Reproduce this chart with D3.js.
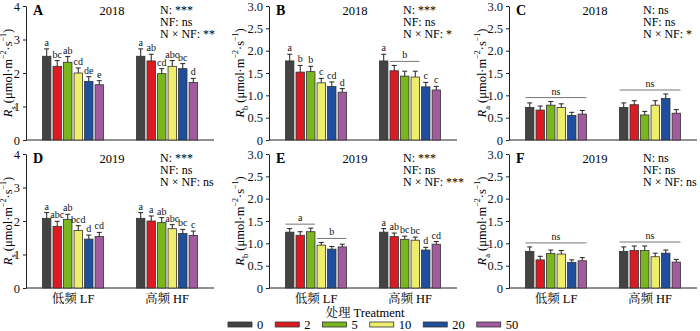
<!DOCTYPE html>
<html>
<head>
<meta charset="utf-8">
<title>Soil respiration components</title>
<style>
  body { margin: 0; background: #fff; }
  svg { display: block; }
  svg text { font-family: "Liberation Serif", "Times New Roman", "Noto Serif CJK SC", "Noto Sans CJK SC", serif; }
</style>
</head>
<body>
<script src="https://d3js.org/d3.v7.min.js"></script>
<script>
var groups = ["低频 LF", "高频 HF"];
var levels = ["0", "2", "5", "10", "20", "50"];
var colors = ["#434343", "#dc1a22", "#7cb61e", "#eeee6c", "#1e4e9c", "#a35b9f"];

var ticksRs = [0, 1, 2, 3, 4];
var ticksRbRa = [0, 0.5, 1.0, 1.5, 2.0, 2.5, 3.0];

// 2018, total soil respiration
var rs2018 = [[2.50, 2.20, 2.32, 2.00, 1.75, 1.65], [2.50, 2.36, 1.98, 2.20, 2.13, 1.72]];
var rs2018Se = [[0.22, 0.17, 0.17, 0.15, 0.14, 0.12], [0.22, 0.20, 0.15, 0.17, 0.15, 0.12]];
var rs2018Letters = [["a", "bc", "ab", "cd", "de", "e"], ["a", "ab", "cd", "abc", "bc", "d"]];

// 2018, heterotrophic respiration
var rb2018 = [[1.77, 1.52, 1.53, 1.28, 1.20, 1.07], [1.77, 1.55, 1.43, 1.41, 1.19, 1.12]];
var rb2018Se = [[0.15, 0.15, 0.12, 0.10, 0.10, 0.08], [0.15, 0.12, 0.11, 0.13, 0.10, 0.08]];
var rb2018Letters = [["a", "b", "b", "c", "cd", "d"], ["a", "", "", "", "c", "c"]];
var rb2018Spans = [{ group: 1, from: 1, to: 3, label: "b" }];

// 2018, autotrophic respiration
var ra2018 = [[0.73, 0.67, 0.78, 0.73, 0.55, 0.58], [0.73, 0.79, 0.56, 0.78, 0.93, 0.60]];
var ra2018Se = [[0.10, 0.09, 0.08, 0.08, 0.07, 0.08], [0.10, 0.09, 0.08, 0.10, 0.10, 0.08]];
var ra2018Letters = [["", "", "", "", "", ""], ["", "", "", "", "", ""]];
var ra2018Spans = [{ group: 0, from: 0, to: 5, label: "ns" }, { group: 1, from: 0, to: 5, label: "ns" }];

// 2019, total soil respiration
var rs2019 = [[2.08, 1.84, 2.05, 1.72, 1.46, 1.54], [2.08, 2.00, 1.95, 1.77, 1.63, 1.57]];
var rs2019Se = [[0.17, 0.15, 0.15, 0.14, 0.12, 0.12], [0.17, 0.15, 0.15, 0.12, 0.12, 0.13]];
var rs2019Letters = [["a", "abc", "ab", "bcd", "d", "cd"], ["a", "a", "ab", "abc", "bc", "c"]];

// 2019, heterotrophic respiration
var rb2019 = [[1.25, 1.18, 1.26, 0.96, 0.87, 0.92], [1.25, 1.15, 1.09, 1.07, 0.85, 0.98]];
var rb2019Se = [[0.08, 0.08, 0.08, 0.06, 0.06, 0.06], [0.08, 0.08, 0.07, 0.07, 0.06, 0.06]];
var rb2019Letters = [["", "", "", "", "", ""], ["a", "ab", "bc", "bc", "d", "cd"]];
var rb2019Spans = [{ group: 0, from: 0, to: 2, label: "a" }, { group: 0, from: 3, to: 5, label: "b" }];

// 2019, autotrophic respiration
var ra2019 = [[0.82, 0.63, 0.77, 0.76, 0.57, 0.61], [0.82, 0.84, 0.84, 0.70, 0.78, 0.58]];
var ra2019Se = [[0.10, 0.08, 0.08, 0.08, 0.06, 0.07], [0.10, 0.10, 0.10, 0.08, 0.07, 0.06]];
var ra2019Letters = [["", "", "", "", "", ""], ["", "", "", "", "", ""]];
var ra2019Spans = [{ group: 0, from: 0, to: 5, label: "ns" }, { group: 1, from: 0, to: 5, label: "ns" }];

var panels = [
  { id: "A", year: "2018", sub: "s", mean: rs2018, se: rs2018Se, letters: rs2018Letters, spans: [],
    ticks: ticksRs, stats: ["N: ***", "NF: ns", "N × NF: **"], left: 26, top: 6, labelX: 8 },
  { id: "B", year: "2018", sub: "b", mean: rb2018, se: rb2018Se, letters: rb2018Letters, spans: rb2018Spans,
    ticks: ticksRbRa, stats: ["N: ***", "NF: ns", "N × NF: *"], left: 269, top: 6, labelX: 240 },
  { id: "C", year: "2018", sub: "a", mean: ra2018, se: ra2018Se, letters: ra2018Letters, spans: ra2018Spans,
    ticks: ticksRbRa, stats: ["N: ns", "NF: ns", "N × NF: *"], left: 509, top: 6, labelX: 482 },
  { id: "D", year: "2019", sub: "s", mean: rs2019, se: rs2019Se, letters: rs2019Letters, spans: [],
    ticks: ticksRs, stats: ["N: ***", "NF: ns", "N × NF: ns"], left: 26, top: 154, labelX: 8 },
  { id: "E", year: "2019", sub: "b", mean: rb2019, se: rb2019Se, letters: rb2019Letters, spans: rb2019Spans,
    ticks: ticksRbRa, stats: ["N: ***", "NF: ns", "N × NF: ***"], left: 269, top: 154, labelX: 240 },
  { id: "F", year: "2019", sub: "a", mean: ra2019, se: ra2019Se, letters: ra2019Letters, spans: ra2019Spans,
    ticks: ticksRbRa, stats: ["N: ns", "NF: ns", "N × NF: ns"], left: 509, top: 154, labelX: 482 }
];

var W = 700, H = 331;
var pw = 188, ph = 134;
var groupSpan = 61;
var ink = "#222";

var svg = d3.select("body").append("svg")
    .attr("width", W)
    .attr("height", H);

var x0 = d3.scaleBand().domain(groups).range([0, pw]);
var x1 = d3.scaleBand().domain(levels).range([0, groupSpan]).paddingInner(0.2);

function barX(gi, li) {
  return x0(groups[gi]) + x0.bandwidth() / 2 - groupSpan / 2 + x1(levels[li]);
}

panels.forEach(function(p, pi) {
  var ymax = d3.max(p.ticks);
  var y = d3.scaleLinear().domain([0, ymax]).range([ph, 0]);
  var fmt = ymax > 3 ? d3.format("d") : function(d) { return d === 0 ? "0" : d3.format(".1f")(d); };

  var g = svg.append("g").attr("transform", "translate(" + p.left + "," + p.top + ")");

  // y axis
  var yAxis = g.append("g")
      .call(d3.axisLeft(y).tickValues(p.ticks).tickFormat(fmt).tickSize(3).tickSizeOuter(0).tickPadding(3))
      .attr("font-family", null)
      .attr("font-size", null);
  yAxis.select(".domain").attr("stroke", ink);
  yAxis.selectAll(".tick line").attr("stroke", ink);
  yAxis.selectAll("text").attr("font-size", 12.5).attr("fill", "#111");

  // x axis line, no ticks
  g.append("line")
      .attr("x1", 0).attr("x2", pw)
      .attr("y1", ph).attr("y2", ph)
      .attr("stroke", ink).attr("stroke-width", 1);

  // bars
  var rows = [];
  p.mean.forEach(function(vals, gi) {
    vals.forEach(function(v, li) {
      rows.push({ gi: gi, li: li, v: v, se: p.se[gi][li], letter: p.letters[gi][li] });
    });
  });

  g.selectAll(".bar")
      .data(rows)
      .enter()
      .append("rect")
      .attr("class", "bar")
      .attr("x", function(d) { return barX(d.gi, d.li); })
      .attr("y", function(d) { return y(d.v); })
      .attr("width", x1.bandwidth())
      .attr("height", function(d) { return ph - y(d.v); })
      .attr("fill", function(d) { return colors[d.li]; })
      .attr("stroke", "#333")
      .attr("stroke-width", 0.8);

  // error bars (upper half only)
  var eb = g.selectAll(".err").data(rows).enter().append("g").attr("class", "err")
      .attr("stroke", ink).attr("stroke-width", 1);
  eb.append("line")
      .attr("x1", function(d) { return barX(d.gi, d.li) + x1.bandwidth() / 2; })
      .attr("x2", function(d) { return barX(d.gi, d.li) + x1.bandwidth() / 2; })
      .attr("y1", function(d) { return y(d.v); })
      .attr("y2", function(d) { return y(d.v + d.se); });
  eb.append("line")
      .attr("x1", function(d) { return barX(d.gi, d.li) + x1.bandwidth() / 2 - 2.5; })
      .attr("x2", function(d) { return barX(d.gi, d.li) + x1.bandwidth() / 2 + 2.5; })
      .attr("y1", function(d) { return y(d.v + d.se); })
      .attr("y2", function(d) { return y(d.v + d.se); });

  // significance letters
  g.selectAll(".letter")
      .data(rows.filter(function(d) { return d.letter; }))
      .enter()
      .append("text")
      .attr("class", "letter")
      .attr("x", function(d) { return barX(d.gi, d.li) + x1.bandwidth() / 2; })
      .attr("y", function(d) { return y(d.v + d.se) - 3; })
      .attr("text-anchor", "middle")
      .attr("font-size", 10)
      .attr("fill", "#111")
      .text(function(d) { return d.letter; });

  // shared letters over a run of bars
  p.spans.forEach(function(s) {
    var top = d3.min(d3.range(s.from, s.to + 1), function(li) {
      return y(p.mean[s.group][li] + p.se[s.group][li]);
    });
    var ly = top - 4;
    var xa = barX(s.group, s.from);
    var xb = barX(s.group, s.to) + x1.bandwidth();
    g.append("line")
        .attr("x1", xa).attr("x2", xb)
        .attr("y1", ly).attr("y2", ly)
        .attr("stroke", "#777").attr("stroke-width", 1);
    g.append("text")
        .attr("x", (xa + xb) / 2)
        .attr("y", ly - 3)
        .attr("text-anchor", "middle")
        .attr("font-size", 10)
        .attr("fill", "#111")
        .text(s.label);
  });

  // panel letter, year, ANOVA summary
  g.append("text")
      .attr("x", 7).attr("y", 9)
      .attr("font-size", 14).attr("font-weight", "bold")
      .text(p.id);
  g.append("text")
      .attr("x", 86).attr("y", 9)
      .attr("text-anchor", "middle")
      .attr("font-size", 12.5)
      .text(p.year);
  p.stats.forEach(function(s, i) {
    g.append("text")
        .attr("x", 134).attr("y", 8 + i * 12)
        .attr("font-size", 12)
        .text(s);
  });

  // y axis title
  var t = svg.append("text")
      .attr("transform", "translate(" + p.labelX + "," + (p.top + ph / 2) + ") rotate(-90)")
      .attr("text-anchor", "middle")
      .attr("dominant-baseline", "central")
      .attr("font-size", 12.5);
  t.append("tspan").attr("font-style", "italic").text("R");
  t.append("tspan").attr("font-size", 8.5).attr("baseline-shift", "sub").text(p.sub);
  t.append("tspan").text(" (μmol·m");
  t.append("tspan").attr("font-size", 8).attr("baseline-shift", "super").text("−2");
  t.append("tspan").text("·s");
  t.append("tspan").attr("font-size", 8).attr("baseline-shift", "super").text("−1");
  t.append("tspan").text(")");

  // category labels on the bottom row only
  if (pi >= 3) {
    g.selectAll(".cat")
        .data(groups)
        .enter()
        .append("text")
        .attr("x", function(d) { return x0(d) + x0.bandwidth() / 2; })
        .attr("y", ph + 15)
        .attr("text-anchor", "middle")
        .attr("font-size", 12.5)
        .text(function(d) { return d; });
  }
});

// x title
svg.append("text")
    .attr("x", 365).attr("y", 317)
    .attr("text-anchor", "middle")
    .attr("font-size", 12.5)
    .text("处理 Treatment");

// legend
var legend = svg.append("g").attr("transform", "translate(228,322)");
var lx = 0;
levels.forEach(function(l, i) {
  legend.append("rect")
      .attr("x", lx).attr("y", 0)
      .attr("width", 24).attr("height", 5)
      .attr("fill", colors[i])
      .attr("stroke", "#333").attr("stroke-width", 0.8);
  var txt = legend.append("text")
      .attr("x", lx + 29).attr("y", 7)
      .attr("font-size", 12.5)
      .text(l);
  lx += 29 + txt.node().getComputedTextLength() + 12;
});
</script>
</body>
</html>
